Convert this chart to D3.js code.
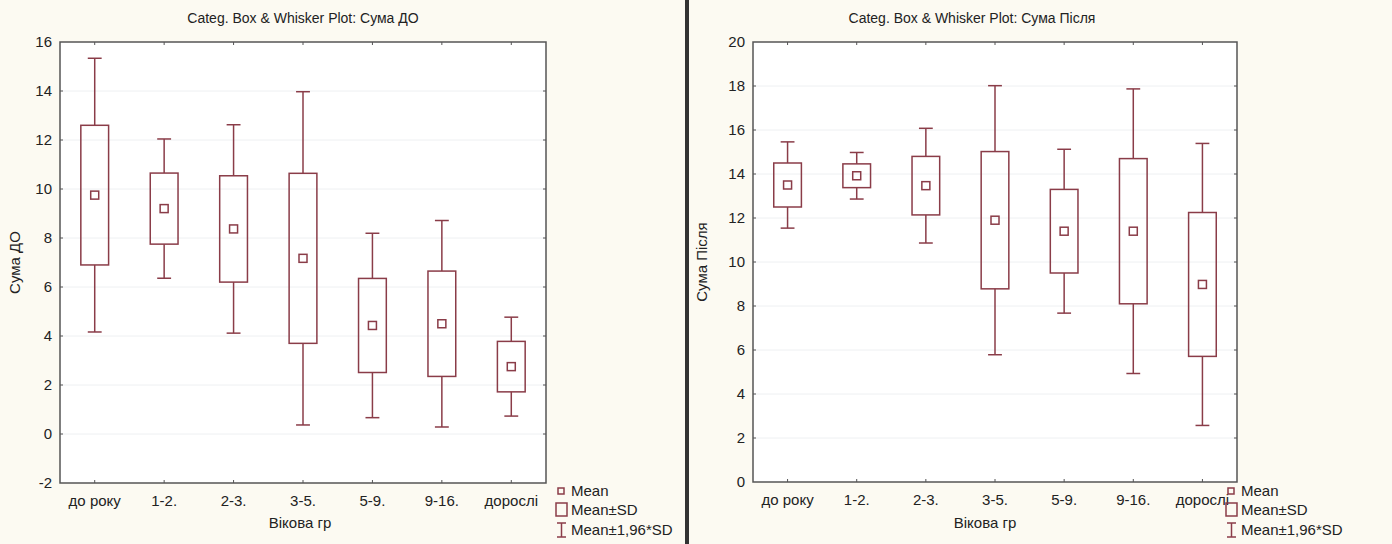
<!DOCTYPE html>
<html>
<head>
<meta charset="utf-8">
<script src="https://cdn.jsdelivr.net/npm/d3@7"></script>
<style>
  body { margin: 0; background: #fcfaf2; }
  svg { display: block; font-family: "Liberation Sans", Arial, sans-serif; }
</style>
</head>
<body>
<div id="wrapper"></div>
<script>
const categories = ["до року", "1-2.", "2-3.", "3-5.", "5-9.", "9-16.", "дорослі"];

// Сума ДО
const meanBefore = [9.75, 9.2, 8.37, 7.17, 4.43, 4.5, 2.75];
const sdBefore = [2.85, 1.45, 2.17, 3.47, 1.92, 2.15, 1.03];
const ticksBefore = [-2, 0, 2, 4, 6, 8, 10, 12, 14, 16];

// Сума Після
const meanAfter = [13.5, 13.92, 13.47, 11.9, 11.4, 11.4, 8.98];
const sdAfter = [1.0, 0.54, 1.33, 3.12, 1.9, 3.3, 3.27];
const ticksAfter = [0, 2, 4, 6, 8, 10, 12, 14, 16, 18, 20];

const legendLabels = ["Mean", "Mean±SD", "Mean±1,96*SD"];

const boxColor = "#8a3c48";
const axisColor = "#555";

const svg = d3.select("#wrapper")
  .append("svg")
  .attr("width", 1392)
  .attr("height", 544);

svg.append("rect")
  .attr("width", 1392)
  .attr("height", 544)
  .attr("fill", "#fcfaf2");

// thick separator between two panels
svg.append("rect")
  .attr("x", 685)
  .attr("y", 0)
  .attr("width", 4)
  .attr("height", 544)
  .attr("fill", "#333");

const drawPanel = (opts) => {
  const { left, right, top, bottom, title, yLabel, means, sds, ticks, legendX, titleX, xLabelX, yLabelX } = opts;

  const g = svg.append("g");

  const xScale = d3.scaleBand()
    .domain(categories)
    .range([left, right]);

  const yScale = d3.scaleLinear()
    .domain([ticks[0], ticks[ticks.length - 1]])
    .range([bottom, top]);

  g.append("rect")
    .attr("x", left)
    .attr("y", top)
    .attr("width", right - left)
    .attr("height", bottom - top)
    .attr("fill", "#fff");

  // faint gridlines
  g.selectAll(".grid")
    .data(ticks.slice(1, -1))
    .enter()
    .append("line")
    .attr("x1", left)
    .attr("x2", right)
    .attr("y1", (d) => yScale(d))
    .attr("y2", (d) => yScale(d))
    .attr("stroke", "#eef0f2")
    .attr("stroke-width", 1);

  // axes
  const yAxis = d3.axisLeft(yScale)
    .tickValues(ticks)
    .tickFormat((d) => String(d))
    .tickSize(0)
    .tickPadding(8);
  g.append("g")
    .attr("transform", `translate(${left},0)`)
    .call(yAxis)
    .call((a) => a.select(".domain").remove())
    .selectAll("text")
    .style("font-size", "15px")
    .attr("fill", "#222");

  const xAxis = d3.axisBottom(xScale).tickSize(0).tickPadding(12);
  g.append("g")
    .attr("transform", `translate(0,${bottom})`)
    .call(xAxis)
    .call((a) => a.select(".domain").remove())
    .selectAll("text")
    .style("font-size", "15px")
    .attr("fill", "#222");

  // small inner ticks on all four sides
  const tickLen = 3;
  g.selectAll(".xt")
    .data(categories)
    .enter()
    .append("path")
    .attr("d", (d) => {
      const x = xScale(d) + xScale.bandwidth() / 2;
      return `M${x},${top}v${tickLen}M${x},${bottom}v${-tickLen}`;
    })
    .attr("stroke", axisColor);
  g.selectAll(".yt")
    .data(ticks.slice(1, -1))
    .enter()
    .append("path")
    .attr("d", (d) => {
      const y = yScale(d);
      return `M${left},${y}h${tickLen}M${right},${y}h${-tickLen}`;
    })
    .attr("stroke", axisColor);

  g.append("rect")
    .attr("x", left)
    .attr("y", top)
    .attr("width", right - left)
    .attr("height", bottom - top)
    .attr("fill", "none")
    .attr("stroke", axisColor)
    .attr("stroke-width", 1.5);

  // boxes
  const data = categories.map((c, i) => ({ cat: c, mean: means[i], sd: sds[i] }));
  const boxW = xScale.bandwidth() * 0.4;
  const capW = xScale.bandwidth() * 0.2;
  const cx = (d) => xScale(d.cat) + xScale.bandwidth() / 2;

  const boxes = g.selectAll(".box")
    .data(data)
    .enter()
    .append("g")
    .attr("fill", "none")
    .attr("stroke", boxColor)
    .attr("stroke-width", 1.5);

  boxes.append("line")
    .attr("x1", cx).attr("x2", cx)
    .attr("y1", (d) => yScale(d.mean + 1.96 * d.sd))
    .attr("y2", (d) => yScale(d.mean + d.sd));
  boxes.append("line")
    .attr("x1", cx).attr("x2", cx)
    .attr("y1", (d) => yScale(d.mean - d.sd))
    .attr("y2", (d) => yScale(d.mean - 1.96 * d.sd));
  boxes.append("line")
    .attr("x1", (d) => cx(d) - capW / 2).attr("x2", (d) => cx(d) + capW / 2)
    .attr("y1", (d) => yScale(d.mean + 1.96 * d.sd))
    .attr("y2", (d) => yScale(d.mean + 1.96 * d.sd));
  boxes.append("line")
    .attr("x1", (d) => cx(d) - capW / 2).attr("x2", (d) => cx(d) + capW / 2)
    .attr("y1", (d) => yScale(d.mean - 1.96 * d.sd))
    .attr("y2", (d) => yScale(d.mean - 1.96 * d.sd));
  boxes.append("rect")
    .attr("x", (d) => cx(d) - boxW / 2)
    .attr("width", boxW)
    .attr("y", (d) => yScale(d.mean + d.sd))
    .attr("height", (d) => yScale(d.mean - d.sd) - yScale(d.mean + d.sd));
  boxes.append("rect")
    .attr("x", (d) => cx(d) - 4)
    .attr("y", (d) => yScale(d.mean) - 4)
    .attr("width", 8)
    .attr("height", 8);

  // titles
  g.append("text")
    .attr("x", titleX)
    .attr("y", 23)
    .attr("text-anchor", "middle")
    .style("font-size", "14px")
    .attr("fill", "#222")
    .text(title);

  g.append("text")
    .attr("x", xLabelX)
    .attr("y", 528)
    .attr("text-anchor", "middle")
    .style("font-size", "15px")
    .attr("fill", "#222")
    .text("Вікова гр");

  g.append("text")
    .attr("transform", `translate(${yLabelX},${(top + bottom) / 2}) rotate(-90)`)
    .attr("text-anchor", "middle")
    .style("font-size", "15px")
    .attr("fill", "#222")
    .text(yLabel);

  // legend
  const lg = g.append("g").attr("transform", `translate(${legendX},0)`);
  const rowY = [491, 510, 530];
  lg.append("rect")
    .attr("x", 1).attr("y", rowY[0] - 3).attr("width", 6).attr("height", 6)
    .attr("fill", "none").attr("stroke", boxColor).attr("stroke-width", 1.5);
  lg.append("rect")
    .attr("x", -1).attr("y", rowY[1] - 7).attr("width", 11).attr("height", 13)
    .attr("fill", "none").attr("stroke", boxColor).attr("stroke-width", 1.5);
  lg.append("path")
    .attr("d", `M0,${rowY[2] - 7}h9M4.5,${rowY[2] - 7}v14M0,${rowY[2] + 7}h9`)
    .attr("fill", "none").attr("stroke", boxColor).attr("stroke-width", 1.5);
  lg.selectAll(".lt")
    .data(legendLabels)
    .enter()
    .append("text")
    .attr("x", 14)
    .attr("y", (d, i) => rowY[i] + 5)
    .style("font-size", "15px")
    .attr("fill", "#222")
    .text((d) => d);
};

drawPanel({
  left: 60, right: 546, top: 42, bottom: 483,
  title: "Categ. Box & Whisker Plot: Сума ДО",
  yLabel: "Сума ДО",
  means: meanBefore, sds: sdBefore, ticks: ticksBefore,
  legendX: 557, titleX: 303, xLabelX: 300, yLabelX: 20
});

drawPanel({
  left: 753, right: 1237, top: 42, bottom: 482,
  title: "Categ. Box & Whisker Plot: Сума Після",
  yLabel: "Сума Після",
  means: meanAfter, sds: sdAfter, ticks: ticksAfter,
  legendX: 1227, titleX: 972, xLabelX: 985, yLabelX: 707
});
</script>
</body>
</html>
